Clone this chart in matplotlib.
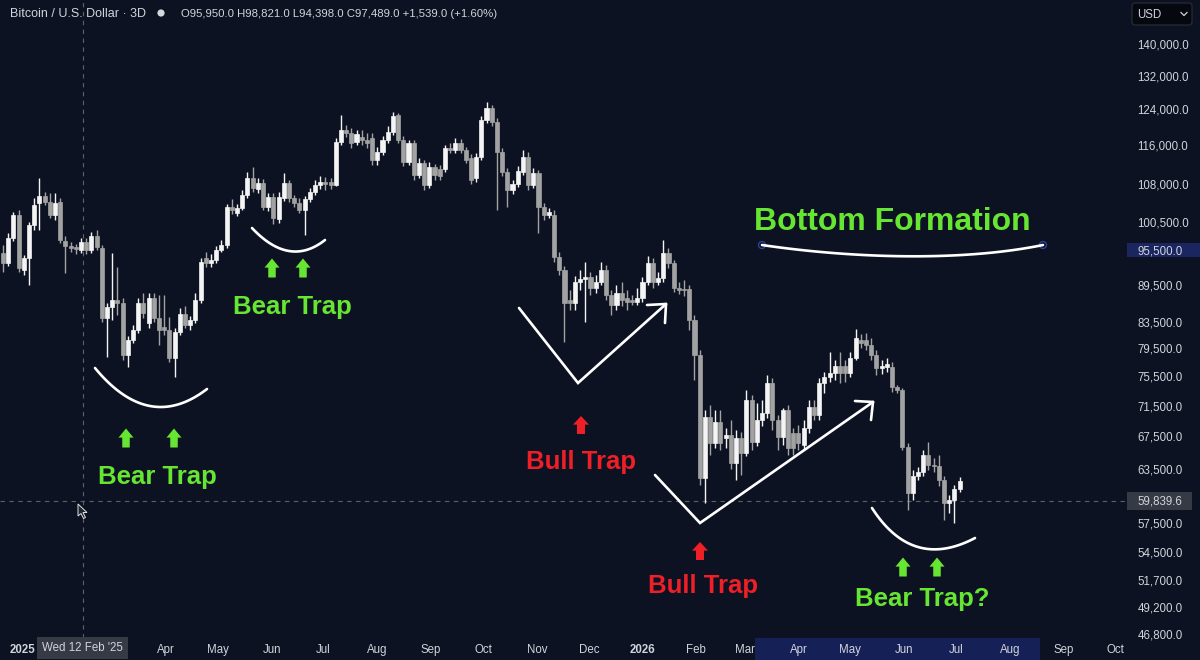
import numpy as np
import pandas as pd
import matplotlib
matplotlib.use("Agg")
import matplotlib.pyplot as plt
import matplotlib.dates as mdates
from matplotlib.patches import Polygon, Rectangle, FancyBboxPatch, Circle
from matplotlib.ticker import NullFormatter

plt.rcParams['font.family'] = ['Liberation Sans', 'DejaVu Sans']

# ---- data: BTC/USD 3D candles, prices in thousands USD ----
first_candle = '2024-12-28'
opens = [95.0, 93.2, 97.6, 101.9, 92.0, 94.1, 100.0, 104.2, 105.5, 104.4,
         101.9, 104.4, 97.1, 96.2, 96.0, 95.5, 96.9, 95.5, 98.0, 95.8,
         84.1, 85.9, 87.0, 86.5, 78.5, 80.8, 82.3, 86.5, 83.3, 87.3,
         84.1, 82.8, 82.3, 78.1, 82.0, 84.8, 83.0, 83.8, 87.0, 94.1,
         93.2, 93.7, 95.5, 96.4, 103.4, 102.3, 103.2, 105.7, 109.1, 106.9,
         108.1, 103.4, 105.3, 101.1, 105.1, 108.1, 105.1, 104.2, 102.8, 105.0,
         106.3, 107.7, 108.3, 108.3, 107.7, 116.7, 119.3, 118.6, 116.7, 117.8,
         117.1, 117.6, 112.8, 114.5, 117.1, 118.9, 122.7, 117.1, 112.4, 116.5,
         109.7, 112.2, 107.7, 111.4, 111.0, 111.0, 115.4, 115.0, 116.5, 115.0,
         113.2, 109.1, 113.5, 121.6, 124.3, 121.1, 114.5, 110.4, 106.7, 107.9,
         110.4, 113.5, 107.7, 110.1, 103.4, 101.9, 101.9, 94.2, 92.0, 87.0,
         86.5, 90.0, 90.5, 90.8, 89.0, 90.0, 92.0, 87.8, 86.2, 88.1,
         87.3, 87.0, 86.7, 87.3, 90.0, 93.2, 90.0, 90.6, 95.0, 93.2,
         89.0, 88.8, 88.8, 83.8, 78.5, 62.5, 70.0, 66.7, 69.3, 67.3,
         67.7, 64.2, 67.3, 65.5, 72.2, 66.8, 69.6, 70.5, 74.6, 69.6,
         67.4, 70.9, 68.0, 68.0, 66.4, 68.6, 71.3, 70.3, 74.6, 75.4,
         76.0, 77.0, 77.0, 76.0, 78.1, 80.8, 80.8, 80.0, 78.5, 76.7,
         76.8, 76.8, 74.0, 73.6, 66.2, 60.8, 62.7, 63.2, 65.2, 64.0,
         63.9, 62.3, 59.7, 60.0, 61.2]
highs = [96.4, 98.5, 102.4, 102.8, 94.6, 100.5, 105.1, 109.1, 106.3, 106.1,
         106.1, 105.1, 98.0, 96.9, 96.6, 97.6, 97.6, 98.7, 99.1, 96.4,
         86.5, 95.0, 92.5, 87.3, 81.4, 83.0, 87.3, 88.1, 88.1, 88.1,
         87.8, 87.8, 84.3, 82.6, 85.7, 86.0, 84.5, 88.1, 94.1, 95.1,
         94.8, 96.2, 97.3, 104.0, 104.9, 104.0, 106.7, 110.4, 111.4, 109.1,
         108.9, 106.1, 106.1, 106.3, 110.1, 108.7, 105.7, 105.1, 105.5, 107.1,
         108.7, 109.5, 109.3, 109.1, 117.6, 122.7, 120.4, 119.7, 119.3, 119.3,
         118.6, 118.6, 115.6, 118.0, 120.2, 123.4, 123.1, 118.0, 117.1, 117.1,
         113.2, 112.8, 112.4, 112.0, 111.8, 116.0, 116.5, 117.6, 117.3, 115.6,
         114.1, 114.3, 122.5, 125.7, 125.0, 122.0, 115.4, 111.2, 108.7, 111.6,
         115.0, 114.5, 111.2, 110.8, 104.2, 103.2, 102.8, 95.1, 92.7, 88.6,
         91.0, 92.0, 93.4, 91.6, 91.1, 93.4, 92.8, 88.6, 89.5, 90.0,
         88.6, 87.8, 89.0, 90.8, 94.4, 94.1, 91.6, 97.3, 95.8, 93.7,
         90.0, 90.3, 89.5, 84.6, 79.3, 70.9, 71.6, 70.9, 70.9, 68.6,
         69.6, 68.3, 68.1, 73.6, 72.9, 71.8, 72.2, 75.7, 75.3, 70.3,
         71.2, 71.6, 68.6, 69.0, 69.6, 72.2, 72.2, 75.3, 76.1, 79.0,
         77.8, 79.0, 77.8, 79.0, 82.4, 81.7, 81.8, 81.1, 79.3, 77.8,
         78.1, 77.5, 74.3, 73.9, 66.7, 63.4, 63.8, 65.8, 66.8, 64.9,
         65.2, 62.7, 60.6, 61.7, 62.6]
lows = [91.6, 92.7, 97.1, 91.6, 91.1, 89.5, 99.1, 99.1, 103.8, 101.3,
        100.9, 96.7, 91.4, 95.1, 94.8, 95.0, 94.8, 95.0, 95.5, 83.5,
        78.2, 83.8, 84.6, 77.8, 76.8, 80.3, 81.8, 84.1, 82.6, 83.5,
        80.0, 81.5, 77.5, 75.4, 81.5, 82.6, 82.3, 83.3, 86.5, 92.5,
        92.5, 93.2, 95.1, 95.8, 102.1, 101.7, 102.8, 105.1, 106.3, 106.1,
        102.8, 102.6, 100.2, 100.4, 104.6, 104.4, 103.4, 102.3, 98.2, 104.4,
        105.7, 106.9, 106.7, 106.9, 107.5, 116.0, 117.8, 115.4, 116.0, 116.0,
        115.4, 111.8, 111.8, 113.9, 116.5, 118.2, 116.5, 111.6, 111.8, 108.7,
        109.1, 106.7, 107.1, 108.7, 108.7, 110.4, 114.3, 114.3, 114.3, 112.2,
        107.9, 108.3, 112.8, 120.9, 120.2, 102.8, 109.5, 103.4, 105.9, 107.3,
        109.7, 106.7, 107.1, 98.5, 100.9, 101.3, 93.4, 91.1, 80.5, 85.4,
        85.4, 88.6, 83.5, 87.8, 88.1, 89.5, 87.0, 84.6, 85.4, 86.0,
        85.4, 86.2, 86.2, 86.7, 89.5, 89.0, 89.5, 90.0, 92.3, 88.3,
        88.0, 87.6, 82.3, 75.0, 61.7, 59.7, 65.2, 66.1, 65.8, 66.1,
        63.6, 62.3, 62.8, 65.1, 65.8, 66.3, 68.8, 69.8, 68.3, 65.8,
        66.4, 65.2, 65.2, 65.8, 65.8, 68.0, 69.6, 69.6, 73.2, 74.7,
        75.0, 74.6, 74.7, 75.4, 77.8, 79.6, 79.3, 77.8, 75.7, 75.8,
        76.1, 73.3, 73.2, 65.8, 58.9, 60.0, 62.3, 62.7, 63.4, 63.2,
        61.6, 57.8, 58.6, 57.5, 60.9]
closes = [93.2, 97.6, 101.9, 92.3, 94.1, 100.0, 103.8, 105.5, 104.4, 101.9,
          104.2, 97.3, 96.2, 95.8, 95.7, 96.9, 95.5, 98.0, 96.0, 84.1,
          85.9, 87.0, 86.5, 78.5, 80.8, 82.3, 86.5, 84.9, 87.3, 84.1,
          82.3, 82.3, 78.1, 82.0, 84.8, 83.0, 83.8, 87.0, 93.4, 93.2,
          93.7, 95.5, 96.4, 103.4, 102.8, 103.2, 105.7, 109.1, 107.1, 108.1,
          103.4, 105.3, 101.3, 105.3, 108.1, 105.1, 104.2, 102.8, 105.0, 106.3,
          107.7, 108.3, 107.9, 107.7, 116.7, 119.3, 118.6, 116.5, 118.4, 117.1,
          116.5, 112.8, 114.5, 117.1, 118.9, 122.5, 117.1, 112.4, 116.5, 109.7,
          112.2, 107.7, 111.4, 109.7, 109.5, 115.4, 115.0, 116.5, 115.0, 112.8,
          108.7, 113.5, 121.6, 124.3, 121.1, 114.5, 110.4, 106.7, 107.9, 110.6,
          113.5, 107.7, 110.1, 103.4, 101.9, 102.4, 94.2, 92.0, 86.5, 86.5,
          90.0, 90.5, 90.8, 89.0, 90.0, 92.0, 87.8, 86.2, 88.1, 87.0,
          86.7, 86.7, 87.3, 90.0, 93.2, 90.0, 90.6, 95.0, 93.2, 89.0,
          88.6, 88.6, 83.8, 78.5, 62.5, 70.0, 66.7, 69.3, 66.7, 67.7,
          64.2, 67.3, 65.5, 72.2, 66.8, 69.6, 70.5, 74.6, 69.6, 67.4,
          70.9, 66.1, 66.1, 66.7, 68.6, 71.3, 70.3, 74.6, 75.4, 76.0,
          77.0, 76.0, 76.0, 78.1, 81.1, 80.3, 80.0, 78.5, 76.7, 77.0,
          77.3, 74.0, 73.6, 66.2, 60.8, 62.7, 63.2, 65.2, 64.0, 63.9,
          62.3, 59.7, 60.0, 61.2, 62.1]

price_ticks = [140000, 132000, 124000, 116000, 108000, 100500, 95500, 89500,
               83500, 79500, 75500, 71500, 67500, 63500, 57500, 54500, 51700,
               49200, 46800]
drawing_price = 95500
cursor_price = 59839.6
cursor_date = '2025-02-12'
cursor_label = "Wed 12 Feb '25"
title = 'Bitcoin / U.S. Dollar · 3D'
ohlc_text = 'O95,950.0 H98,821.0 L94,398.0 C97,489.0 +1,539.0 (+1.60%)'

# ---- style ----
BG = '#0c1221'
UP = '#f4f4f4'
DOWN = '#a2a2a2'
TXT = '#d1d4dc'
GREEN = '#66e632'
RED = '#ee1f26'
W, H = 1200, 660

o = np.array(opens) * 1000
h = np.array(highs) * 1000
l = np.array(lows) * 1000
c = np.array(closes) * 1000
dates = pd.date_range(first_candle, periods=len(c), freq='3D')
x = mdates.date2num(dates)

fig = plt.figure(figsize=(W / 100, H / 100), dpi=100, facecolor=BG)
ax = fig.add_axes([0, 22 / H, 1125 / W, 638 / H], facecolor=BG)
ax.set_yscale('log')

col = np.where(c >= o, UP, DOWN)
ax.vlines(x, l, h, colors=col, lw=1.0, zorder=3)
ax.bar(x, np.abs(c - o), bottom=np.minimum(o, c), width=2.35, color=col,
       edgecolor=col, linewidth=0.5, zorder=4)

px_per_day = 1.733
ax.set_xlim(x[0] - 3 / px_per_day, x[0] + 1122 / px_per_day)
ax.set_ylim(46413, 151930)
for s in ax.spines.values():
    s.set_visible(False)

# price scale
ax.yaxis.tick_right()
ax.set_yticks(price_ticks)
ax.set_yticklabels([f'{t:,.1f}' for t in price_ticks])
ax.set_yticks([], minor=True)
ax.yaxis.set_minor_formatter(NullFormatter())
ax.tick_params(axis='y', length=0, pad=9, labelcolor=TXT, labelsize=8.3)

# time scale
months = pd.date_range('2025-01-01', '2026-10-01', freq='MS')
months = months[~months.isin(pd.to_datetime(['2025-02-01', '2025-03-01']))]
ax.set_xticks(mdates.date2num(months))
ax.set_xticklabels([str(m.year) if m.month == 1 else m.strftime('%b') for m in months])
for i, lab in enumerate(ax.get_xticklabels()):
    if lab.get_text().isdigit():
        lab.set_fontweight('bold')
    if i == 0:
        lab.set_horizontalalignment('left')
ax.tick_params(axis='x', length=0, pad=4, labelcolor=TXT, labelsize=8.3)
ax.get_xticklabels()[0].set_x(mdates.date2num(months[0]) - 4)

# crosshair
cx = mdates.date2num(pd.Timestamp(cursor_date))
ax.axvline(cx, color='#5d606b', lw=0.8, ls=(0, (4, 4)), zorder=2)
ax.axhline(cursor_price, color='#5d606b', lw=0.8, ls=(0, (4, 4)), zorder=2)
ytr = ax.get_yaxis_transform()
xtr = ax.get_xaxis_transform()
ax.add_patch(Rectangle((1127 / 1125, cursor_price * np.exp(-9 / 538)), 65 / 1125,
                       cursor_price * (np.exp(9 / 538) - np.exp(-9 / 538)),
                       transform=ytr, clip_on=False, facecolor='#363a45',
                       edgecolor='none', zorder=5))
ax.text(1137 / 1125, cursor_price, f'{cursor_price:,.1f}', transform=ytr,
        ha='left', va='center', color=TXT, fontsize=8.3, zorder=6)
ax.add_patch(Rectangle((1127 / 1125, drawing_price * np.exp(-7 / 538)), 73 / 1125,
                       drawing_price * (np.exp(7 / 538) - np.exp(-7 / 538)),
                       transform=ytr, clip_on=False, facecolor='#1b2560',
                       edgecolor='none', zorder=0.5))
ax.add_patch(Rectangle((755 / 1125, -22 / 638), 285 / 1125, 22 / 638,
                       transform=ax.transAxes, clip_on=False,
                       facecolor='#152057', edgecolor='none', zorder=0.5))
ax.text(cx, -10 / 638, cursor_label, transform=xtr, ha='center', va='center',
        color=TXT, fontsize=8.3, zorder=6,
        bbox=dict(boxstyle='square,pad=0.45', facecolor='#363a45', edgecolor='none'))

# ---- overlay in pixel coordinates for drawings ----
ov = fig.add_axes([0, 0, 1, 1])
ov.set_xlim(0, W)
ov.set_ylim(H, 0)
ov.axis('off')
ov.patch.set_alpha(0)


def arc(p0, pm, p2, n=80):
    p0, pm, p2 = np.array(p0, float), np.array(pm, float), np.array(p2, float)
    ctrl = 2 * pm - 0.5 * (p0 + p2)
    t = np.linspace(0, 1, n)[:, None]
    pts = (1 - t) ** 2 * p0 + 2 * (1 - t) * t * ctrl + t ** 2 * p2
    ov.plot(pts[:, 0], pts[:, 1], color='white', lw=1.9, solid_capstyle='round')


def block_arrow(cx, cy, color, w=15, hgt=19):
    top = cy - hgt / 2
    pts = [(cx, top), (cx + w / 2, top + hgt * 0.48), (cx + w * 0.25, top + hgt * 0.48),
           (cx + w * 0.25, top + hgt), (cx - w * 0.25, top + hgt),
           (cx - w * 0.25, top + hgt * 0.48), (cx - w / 2, top + hgt * 0.48)]
    ov.add_patch(Polygon(pts, closed=True, facecolor=color, edgecolor='none'))


def v_arrow(start, low, tip, arm1, arm2):
    xs = [start[0], low[0], tip[0]]
    ys = [start[1], low[1], tip[1]]
    ov.plot(xs, ys, color='white', lw=1.9, solid_capstyle='round', solid_joinstyle='miter')
    for a in (arm1, arm2):
        ov.plot([tip[0], a[0]], [tip[1], a[1]], color='white', lw=1.9, solid_capstyle='round')


def label(x0, y0, s, color, size=18.5):
    ov.text(x0, y0, s, color=color, fontsize=size, fontweight='bold',
            ha='center', va='center')


# bear trap 1
arc((95, 368), (150, 406), (207, 389))
block_arrow(126, 438, GREEN)
block_arrow(174, 438, GREEN)
label(157, 477, 'Bear Trap', GREEN)
# bear trap 2
arc((252, 228), (289, 251), (325, 240))
block_arrow(272, 268, GREEN)
block_arrow(303, 268, GREEN)
label(292, 307, 'Bear Trap', GREEN)
# bull trap 1
v_arrow((519, 308), (578, 383), (666, 304), (647, 305), (665, 323))
block_arrow(581, 425, RED, w=16, hgt=18)
label(581, 462, 'Bull Trap', RED)
# bull trap 2
v_arrow((655, 475), (700, 523), (873, 402), (855, 401), (871, 420))
block_arrow(700, 551, RED, w=16, hgt=18)
label(703, 586, 'Bull Trap', RED)
# bear trap ?
arc((872, 508), (918, 547), (975, 538))
block_arrow(903, 567, GREEN)
block_arrow(937, 567, GREEN)
label(922, 599, 'Bear Trap?', GREEN)

# bottom formation
label(892, 222, 'Bottom Formation', GREEN, size=23)
t = np.linspace(0, 1, 100)[:, None]
P = np.array([(762, 245), (850, 258), (960, 262), (1043, 245)], float)
wave = ((1 - t) ** 3 * P[0] + 3 * (1 - t) ** 2 * t * P[1]
        + 3 * (1 - t) * t ** 2 * P[2] + t ** 3 * P[3])
ov.plot(wave[:, 0], wave[:, 1], color='white', lw=1.9, solid_capstyle='round')
for hx in (762, 1043):
    ov.add_patch(Circle((hx, 245), 3.5, facecolor=BG, edgecolor='#2f44a8', lw=0.9))

# header
ov.text(10, 14, title, color=TXT, fontsize=9.0, ha='left', va='center')
ov.add_patch(Circle((161, 13), 3.6, facecolor='#d5d7dc', edgecolor='none'))
ov.text(181, 14, ohlc_text, color=TXT, fontsize=8.2, ha='left', va='center')

# currency box
ov.add_patch(FancyBboxPatch((1132, 3), 60, 22, boxstyle='round,pad=0,rounding_size=3',
                            facecolor='#05080f', edgecolor='#2a2e39', lw=0.8))
ov.text(1137, 14.5, 'USD', color=TXT, fontsize=8.3, ha='left', va='center')
ov.plot([1181, 1184, 1187], [12.5, 15.5, 12.5], color=TXT, lw=0.9)

# mouse cursor
ov.add_patch(Polygon([(78, 504), (78, 516), (81, 513.5), (83.5, 518.5), (85.5, 517.5),
                      (83, 512.5), (87, 512.5)], closed=True,
                     facecolor='#222633', edgecolor='#e0e0e0', lw=0.7))

fig.savefig('out.png', dpi=100, facecolor=BG)
